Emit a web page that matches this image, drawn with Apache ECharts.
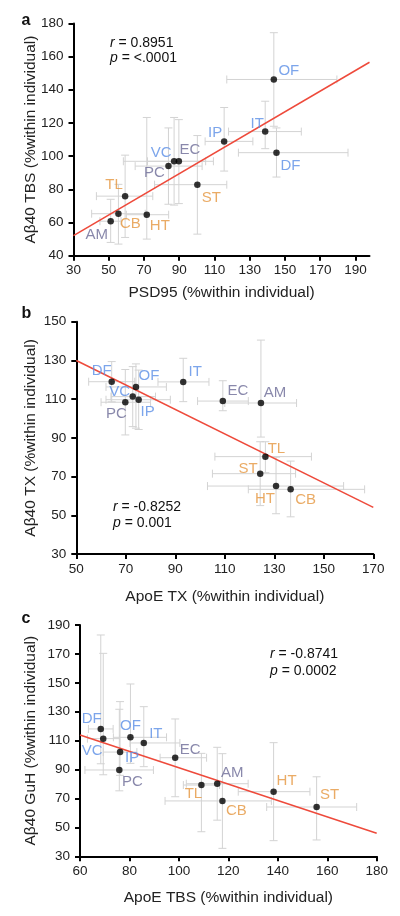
<!DOCTYPE html>
<html><head><meta charset="utf-8">
<script src="https://cdn.jsdelivr.net/npm/echarts@6/dist/echarts.min.js"></script>
<style>html,body{margin:0;padding:0;background:#fff;}#c{width:400px;height:916px;}</style>
</head><body><div id="c"></div>
<script>
// ---------- DATA ----------
// Panel a: PSD95 vs Aβ40 TBS
const namesA = ['OF','IT','IP','DF','VC','EC','PC','TL','CB','HT','AM','ST'];
const xA   = [143.7,138.8,115.5,145.2, 87.1, 89.8, 83.9, 59.3, 55.5, 71.6, 51.1,100.3];
const yA   = [146.2,114.8,108.9,102.1, 96.9, 96.9, 94.0, 75.9, 65.3, 64.7, 60.8, 82.8];
const xLoA = [117.0,118.0,104.7,123.6, 58.3, 72.0, 65.0, 43.0, 40.3, 60.0, 45.0, 76.0];
const xHiA = [179.5,159.3,131.8,185.8,105.0,109.4,103.0, 75.0, 70.7, 84.0, 57.0,117.0];
const yLoA = [118.0,104.5, 91.0, 87.4, 70.5, 71.4, 71.0, 51.0, 47.0, 50.0, 48.0, 53.0];
const yHiA = [174.4,133.1,129.3,117.0,123.3,122.0,117.0,100.6, 83.0,123.3, 74.0,112.4];
const fitA = {slope: 0.622, intercept: 33.44, r: '0.8951', p: '<.0001'};
const xTicksA = [30,50,70,90,110,130,150,170,190];
const yTicksA = [40,60,80,100,120,140,160,180];

// Panel b: ApoE TX vs Aβ40 TX
const namesB = ['DF','OF','VC','IP','PC','IT','EC','AM','TL','ST','HT','CB'];
const xB   = [ 64.3, 74.1, 72.8, 75.2, 69.8, 93.2,109.2,124.6,126.4,124.3,130.7,136.6];
const yB   = [119.0,116.3,111.3,109.7,108.4,118.9,109.0,108.0, 80.3, 71.5, 65.1, 63.4];
const xLoB = [ 55.0, 62.0, 64.0, 62.0, 60.0, 83.0, 99.0,110.0,106.0,105.0,103.0,119.5];
const xHiB = [ 73.6, 86.4, 82.0, 88.0, 80.0,103.6,119.5,139.0,145.0,138.6,158.0,166.5];
const yLoB = [108.6, 95.0, 95.8, 94.3, 91.5,108.7,104.0, 90.4, 72.0, 55.0, 50.8, 49.2];
const yHiB = [129.4,128.2,126.8,125.0,125.3,131.1,119.5,140.5, 88.0, 88.0, 80.0, 78.0];
const fitB = {slope: -0.6325, intercept: 161.6, r: '-0.8252', p: '0.001'};
const xTicksB = [50,70,90,110,130,150,170];
const yTicksB = [30,50,70,90,110,130,150];

// Panel c: ApoE TBS vs Aβ40 GuH
const namesC = ['DF','VC','OF','IT','IP','PC','EC','TL','AM','CB','HT','ST'];
const xC   = [ 68.4, 69.4, 80.4, 85.8, 76.2, 75.9, 98.5,109.1,115.5,117.6,138.3,155.7];
const yC   = [118.1,111.4,112.3,108.4,102.1, 89.7, 98.2, 79.3, 80.2, 68.3, 74.7, 64.1];
const xLoC = [ 63.4, 63.0, 73.5, 80.2, 69.4, 62.0, 92.4,101.8,103.0, 94.4,124.0,135.5];
const xHiC = [ 73.4, 76.0, 95.0,100.4, 83.0, 89.7,111.2,116.4,128.0,137.4,153.0,171.9];
const yLoC = [ 94.0, 86.4, 94.3, 92.0, 86.0, 75.3, 71.2, 47.0, 55.0, 35.5, 40.8, 41.3];
const yHiC = [183.1,170.4,149.2,133.5,137.0,131.7,125.0,101.2,105.4,101.0,108.6, 85.0];
const fitC = {slope: -0.5667, intercept: 147.9, r: '-0.8741', p: '0.0002'};
const xTicksC = [60,80,100,120,140,160,180];
const yTicksC = [30,50,70,90,110,130,150,170,190];

// Region groups (label colours)
const blueRegions = ['OF','IT','IP','DF','VC'];
const purpleRegions = ['EC','PC','AM'];
const orangeRegions = ['TL','CB','HT','ST'];

// ---------- STYLE / LAYOUT ----------
const FONT = "'Liberation Sans', Arial, Helvetica, sans-serif";
const colorOf = n => blueRegions.includes(n) ? '#5b8ee6' : purpleRegions.includes(n) ? '#6c6a96' : '#e5963f';
const offA = {OF:[15,-9], IT:[-8,-8], IP:[-9,-9], DF:[14,13], VC:[-13,-8], EC:[11,-11], PC:[-14,7], TL:[-11,-11], CB:[12,10], HT:[13,11], AM:[-14,14], ST:[14,13]};
const offB = {DF:[-10,-11], OF:[13,-11], VC:[-13,-5], IP:[9,12], PC:[-9,12], IT:[12,-10], EC:[15,-10], AM:[14,-10], TL:[11,-8], ST:[-12,-5], HT:[-11,13], CB:[15,11]};
const offC = {DF:[-9,-10], VC:[-11,12], OF:[0,-11], IT:[12,-9], IP:[12,6], PC:[13,12], EC:[15,-8], AM:[15,-11], TL:[-8,9], CB:[14,10], HT:[13,-11], ST:[13,-12]};

const panels = [
  {names:namesA, x:xA, y:yA, xLo:xLoA, xHi:xHiA, yLo:yLoA, yHi:yHiA, fit:fitA, xt:xTicksA, yt:yTicksA, xmax:198, off:offA,
   grid:{left:73.5, top:23.4, width:296, height:232.3}, xName:'PSD95 (%within individual)', yName:'Aβ40 TBS (%within individual)', xGap:29.5, yGap:35},
  {names:namesB, x:xB, y:yB, xLo:xLoB, xHi:xHiB, yLo:yLoB, yHi:yHiB, fit:fitB, xt:xTicksB, yt:yTicksB, xmax:170, off:offB,
   grid:{left:76.3, top:321.7, width:297, height:232.3}, xName:'ApoE TX (%within individual)', yName:'Aβ40 TX (%within individual)', xGap:34.5, yGap:38},
  {names:namesC, x:xC, y:yC, xLo:xLoC, xHi:xHiC, yLo:yLoC, yHi:yHiC, fit:fitC, xt:xTicksC, yt:yTicksC, xmax:180, off:offC,
   grid:{left:80, top:625, width:296.7, height:231.3}, xName:'ApoE TBS (%within individual)', yName:'Aβ40 GuH (%within individual)', xGap:33, yGap:41}
];

function axisCommon(ticks) {
  return {
    axisLine: {show: true, onZero: false, lineStyle: {color: '#000', width: 2}},
    axisTick: {show: true, length: 5, lineStyle: {color: '#000', width: 2}, customValues: ticks},
    splitLine: {show: false},
    nameLocation: 'middle',
    nameMoveOverlap: false,
    nameTextStyle: {color: '#222', fontSize: 15.5, fontFamily: FONT}
  };
}

const grids = [], xAxes = [], yAxes = [], series = [], graphics = [];
panels.forEach((p, k) => {
  grids.push(Object.assign({containLabel: false}, p.grid));
  xAxes.push(Object.assign(axisCommon(p.xt), {
    type: 'value', gridIndex: k, min: p.xt[0], max: p.xmax, name: p.xName, nameGap: p.xGap,
    axisLabel: {customValues: p.xt, color: '#222', fontSize: 13.5, fontFamily: FONT, margin: 8}
  }));
  yAxes.push(Object.assign(axisCommon(p.yt), {
    type: 'value', gridIndex: k, min: p.yt[0], max: p.yt[p.yt.length - 1], name: p.yName, nameGap: p.yGap,
    axisLabel: {customValues: p.yt, color: '#222', fontSize: 13.5, fontFamily: FONT, margin: 10}
  }));
  // error bars
  series.push({
    type: 'custom', xAxisIndex: k, yAxisIndex: k, z: 1, silent: true,
    data: p.x.map((v, i) => [v, p.y[i], p.xLo[i], p.xHi[i], p.yLo[i], p.yHi[i]]),
    encode: {x: [0, 2, 3], y: [1, 4, 5]},
    renderItem(params, api) {
      const cx = api.value(0), cy = api.value(1);
      const L = api.coord([api.value(2), cy]), R = api.coord([api.value(3), cy]);
      const B = api.coord([cx, api.value(4)]), T = api.coord([cx, api.value(5)]);
      const st = {stroke: '#d3d3d3', lineWidth: 1};
      const h = 4;
      const ln = (x1, y1, x2, y2) => ({type: 'line', shape: {x1, y1, x2, y2}, style: st});
      return {type: 'group', children: [
        ln(L[0], L[1], R[0], R[1]),
        ln(L[0], L[1] - h, L[0], L[1] + h),
        ln(R[0], R[1] - h, R[0], R[1] + h),
        ln(B[0], B[1], T[0], T[1]),
        ln(B[0] - h, B[1], B[0] + h, B[1]),
        ln(T[0] - h, T[1], T[0] + h, T[1])
      ]};
    }
  });
  // regression line
  const x0 = p.xt[0], x1 = p.xmax;
  series.push({
    type: 'line', xAxisIndex: k, yAxisIndex: k, z: 2, symbol: 'none', silent: true,
    lineStyle: {color: '#ee4a3b', width: 1.5},
    data: [[x0, p.fit.intercept + p.fit.slope * x0], [x1, p.fit.intercept + p.fit.slope * x1]]
  });
  // points with labels
  series.push({
    type: 'scatter', xAxisIndex: k, yAxisIndex: k, z: 3, symbolSize: 6.5,
    itemStyle: {color: '#000'},
    data: p.names.map((n, i) => ({
      value: [p.x[i], p.y[i]], name: n,
      label: {show: true, position: 'inside', offset: p.off[n], formatter: n, color: colorOf(n),
              fontSize: 15, fontFamily: FONT}
    }))
  });
});

// stats & panel letters
const statPos = [[110, 42.7, 58.3], [113, 506.7, 522.7], [270, 654, 671]];
const letters = [['a', 26, 20.5], ['b', 26.5, 314], ['c', 26, 619]];
panels.forEach((p, k) => {
  const [sx, y1, y2] = statPos[k];
  const rich = {i: {fontStyle: 'italic', fontSize: 14, fontFamily: FONT, fill: '#111'}};
  graphics.push({type: 'text', x: sx, y: y1, style: {text: '{i|r} = ' + p.fit.r, rich, fontSize: 14, fontFamily: FONT, fill: '#111', verticalAlign: 'middle'}});
  graphics.push({type: 'text', x: sx, y: y2, style: {text: '{i|p} = ' + p.fit.p, rich, fontSize: 14, fontFamily: FONT, fill: '#111', verticalAlign: 'middle'}});
  const L = letters[k];
  graphics.push({type: 'text', x: L[1], y: L[2], style: {text: L[0], fontSize: 16, fontWeight: 'bold', fontFamily: FONT, fill: '#111', align: 'center', verticalAlign: 'middle'}});
});

const chart = echarts.init(document.getElementById('c'), null, {renderer: 'canvas'});
chart.setOption({
  animation: false,
  backgroundColor: '#fff',
  grid: grids, xAxis: xAxes, yAxis: yAxes, series, graphic: graphics
});
</script></body></html>
